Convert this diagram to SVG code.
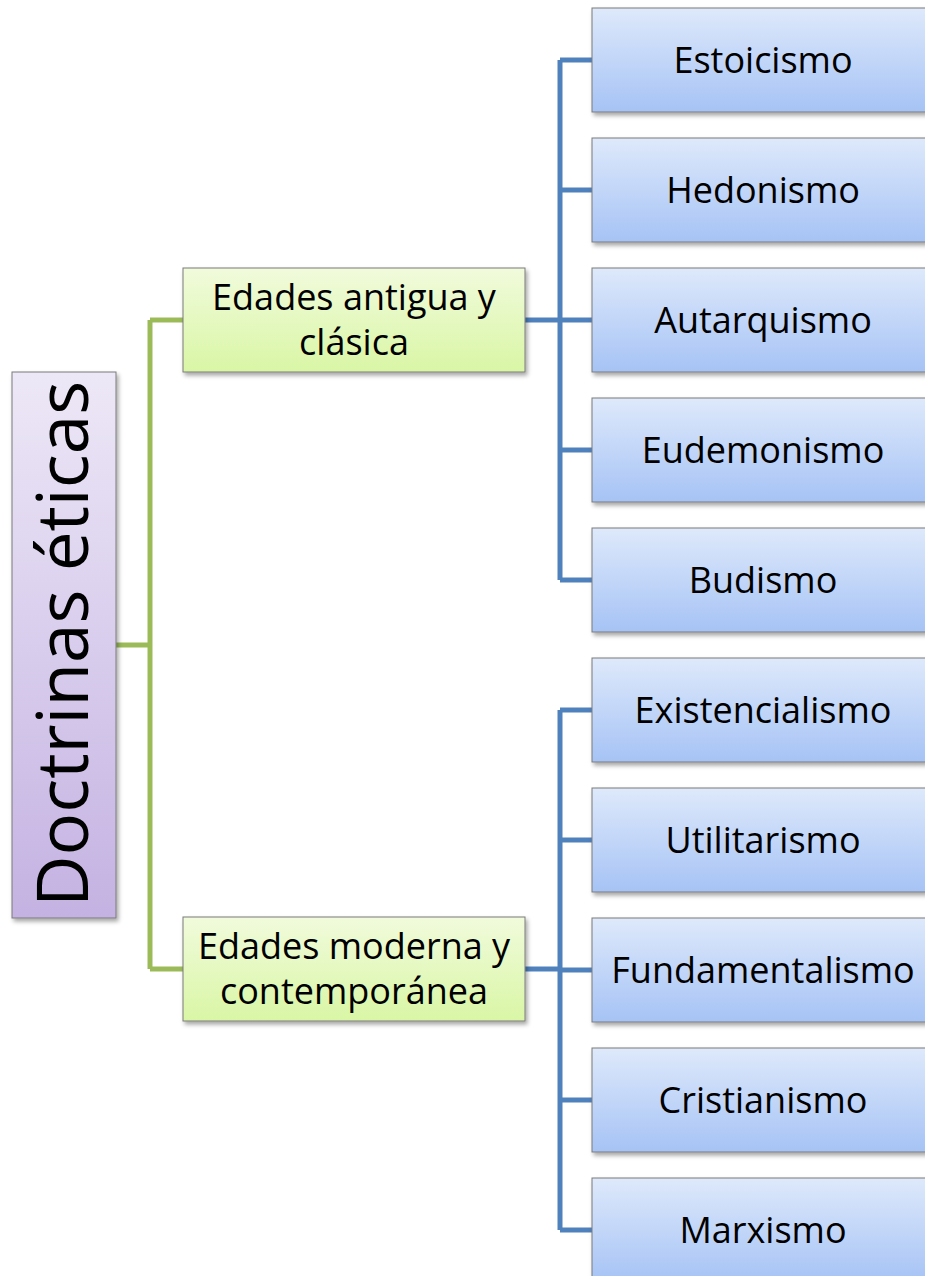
<svg xmlns="http://www.w3.org/2000/svg" width="925" height="1276" viewBox="0 0 925 1276">
<defs>
<linearGradient id="gBlue" x1="0" y1="0" x2="0" y2="1"><stop offset="0" stop-color="#dee9fb"/><stop offset="1" stop-color="#a6c3f5"/></linearGradient>
<linearGradient id="gGreen" x1="0" y1="0" x2="0" y2="1"><stop offset="0" stop-color="#f1fbdc"/><stop offset="1" stop-color="#d9f6a5"/></linearGradient>
<linearGradient id="gPurple" x1="0" y1="0" x2="0" y2="1"><stop offset="0" stop-color="#ede8f7"/><stop offset="1" stop-color="#c4b2e2"/></linearGradient>
<filter id="sh" x="-10%" y="-10%" width="130%" height="130%"><feDropShadow dx="2" dy="3" stdDeviation="2" flood-color="#000" flood-opacity="0.35"/></filter>
</defs>
<style>
.box{stroke:#7a7a7a;stroke-width:1;filter:url(#sh)}
.blue{fill:url(#gBlue)}
.green{fill:url(#gGreen)}
.purple{fill:url(#gPurple)}
.t{font-family:"Open Sans","DejaVu Sans",sans-serif;font-size:36px;fill:#000;text-anchor:middle}
.root{font-size:71px}
.cb{fill:none;stroke:#4f81bd;stroke-width:5}
.cg{fill:none;stroke:#9bbb59;stroke-width:5}
</style>
<g id="connectors">
<path class="cg" d="M116 645H150M150 320V969M150 320H183M150 969H183"/>
<path class="cb" d="M525 320H560M560 60V580M560 60H592M560 190H592M560 320H592M560 450H592M560 580H592"/>
<path class="cb" d="M525 969H560M560 710V1230M560 710H592M560 840H592M560 970H592M560 1100H592M560 1230H592"/>
</g>
<g id="root"><rect class="box purple" x="12" y="372" width="104" height="546"/><text class="t root" transform="translate(88 644) rotate(-90)" x="0" y="0">Doctrinas éticas</text></g>
<g id="antigua"><rect class="box green" x="183" y="268" width="342" height="104"/><text class="t" x="354" y="310">Edades antigua y</text><text class="t" x="354" y="355">clásica</text></g>
<g id="moderna"><rect class="box green" x="183" y="917" width="342" height="104"/><text class="t" x="354" y="959">Edades moderna y</text><text class="t" x="354" y="1004">contemporánea</text></g>
<g id="n1"><rect class="box blue" x="592" y="8" width="342" height="104"/><text class="t" x="763" y="73">Estoicismo</text></g>
<g id="n2"><rect class="box blue" x="592" y="138" width="342" height="104"/><text class="t" x="763" y="203">Hedonismo</text></g>
<g id="n3"><rect class="box blue" x="592" y="268" width="342" height="104"/><text class="t" x="763" y="333">Autarquismo</text></g>
<g id="n4"><rect class="box blue" x="592" y="398" width="342" height="104"/><text class="t" x="763" y="463">Eudemonismo</text></g>
<g id="n5"><rect class="box blue" x="592" y="528" width="342" height="104"/><text class="t" x="763" y="593">Budismo</text></g>
<g id="n6"><rect class="box blue" x="592" y="658" width="342" height="104"/><text class="t" x="763" y="723">Existencialismo</text></g>
<g id="n7"><rect class="box blue" x="592" y="788" width="342" height="104"/><text class="t" x="763" y="853">Utilitarismo</text></g>
<g id="n8"><rect class="box blue" x="592" y="918" width="342" height="104"/><text class="t" x="763" y="983">Fundamentalismo</text></g>
<g id="n9"><rect class="box blue" x="592" y="1048" width="342" height="104"/><text class="t" x="763" y="1113">Cristianismo</text></g>
<g id="n10"><rect class="box blue" x="592" y="1178" width="342" height="104"/><text class="t" x="763" y="1243">Marxismo</text></g>
</svg>
